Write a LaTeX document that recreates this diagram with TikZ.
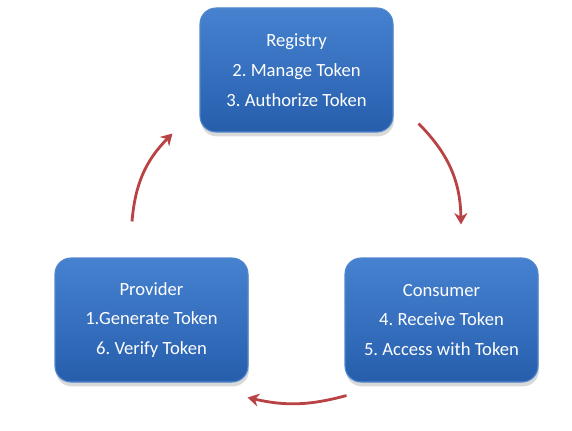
\documentclass[tikz,border=0pt]{standalone}
\usepackage{fontspec}
\setmainfont{Carlito}
\usetikzlibrary{arrows.meta,shadows}
\frenchspacing

\definecolor{boxtop}{RGB}{70,130,208}
\definecolor{boxbottom}{RGB}{38,94,172}
\definecolor{boxline}{RGB}{80,135,205}
\definecolor{arrowred}{RGB}{185,66,68}

\tikzset{
  tokenbox/.style={rounded corners=0.32cm, minimum width=3.86cm, minimum height=2.48cm,
    top color=boxtop, bottom color=boxbottom, draw=boxline, line width=0.6,
    drop shadow={opacity=0.3, shadow xshift=0.5pt, shadow yshift=-2.5pt},
    text=white, align=center, font=\fontsize{10.6pt}{17pt}\selectfont},
  cyclearrow/.style={line width=1.6, color=arrowred,
    -{Stealth[length=6.5pt,width=7.5pt]}}
}

\begin{document}
\begin{tikzpicture}
                  \useasboundingbox (0,0) rectangle (11.44,8.6);
                  % top box
                  \node [tokenbox] (registry) at (5.93,7.2) {Registry\\2. Manage Token\\3. Authorize Token};
                  % bottom left box
                  \node [tokenbox] (provider) at (3.03,2.2) {Provider\\1.Generate Token\\6. Verify Token};
                  % bottom right box
                  \node [tokenbox] (consumer) at (8.83,2.2) {Consumer\\4. Receive Token\\5. Access with Token};
                  % arrow ends
                  \coordinate (regout) at ([shift={(0.5,0.18)}]registry.south east);
                  \coordinate (conin) at ([shift={(0.39,0.66)}]consumer.north);
                  \coordinate (conout) at ([shift={(0.04,-0.26)}]consumer.south west);
                  \coordinate (provin) at ([shift={(-0.02,-0.30)}]provider.south east);
                  \coordinate (provout) at ([shift={(-0.39,0.72)}]provider.north);
                  \coordinate (regin) at ([shift={(-0.54,-0.02)}]registry.south west);
                  % arrow right down
                  \draw [cyclearrow] (regout) to [bend left=22] (conin);
                  % arrow bottom left
                  \draw [cyclearrow] (conout) to [bend left=14] (provin);
                  % arrow left up
                  \draw [cyclearrow] (provout) to [bend left=20] (regin);
               \end{tikzpicture}
\end{document}
